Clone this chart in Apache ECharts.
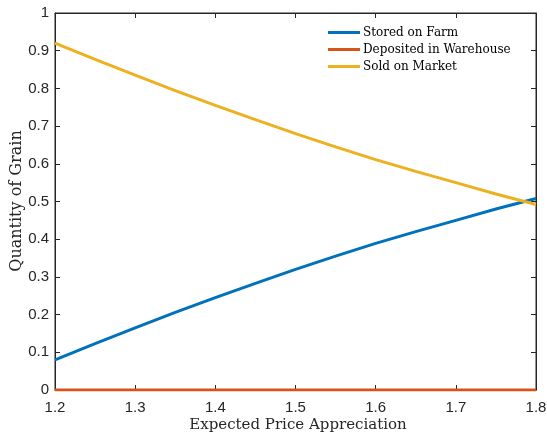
<!DOCTYPE html>
<html><head><meta charset="utf-8">
<script src="https://cdn.jsdelivr.net/npm/echarts@6/dist/echarts.min.js"></script>
<style>html,body{margin:0;padding:0;background:#fff;}#c{width:547px;height:433px;}</style>
</head><body><div id="c"></div>
<script>
const xValues = [1.2, 1.25, 1.3, 1.35, 1.4, 1.45, 1.5, 1.55, 1.6, 1.65, 1.7, 1.75, 1.8];
const storedOnFarm = [0.080, 0.123, 0.165, 0.206, 0.245, 0.283, 0.320, 0.355, 0.389, 0.420, 0.450, 0.480, 0.508];
const depositedInWarehouse = [0, 0, 0, 0, 0, 0, 0, 0, 0, 0, 0, 0, 0];
const soldOnMarket = [0.920, 0.877, 0.835, 0.794, 0.755, 0.717, 0.680, 0.645, 0.611, 0.580, 0.550, 0.520, 0.492];
const seriesNames = ['Stored on Farm', 'Deposited in Warehouse', 'Sold on Market'];
const xTitle = 'Expected Price Appreciation';
const yTitle = 'Quantity of Grain';

const chart = echarts.init(document.getElementById('c'), null, {renderer: 'canvas'});
const pair = arr => xValues.map((x, i) => [x, arr[i]]);
const axisCol = '#262626';
const tickFont = {color: axisCol, fontFamily: 'Liberation Sans', fontSize: 15};
const serif = 'DejaVu Serif';
const mkLine = (name, data, color) => ({
  name, type: 'line', data: pair(data), showSymbol: false, symbol: 'none',
  lineStyle: {color, width: 3}, itemStyle: {color}, xAxisIndex: 0, yAxisIndex: 0, z: 3
});
chart.setOption({
  animation: false,
  backgroundColor: '#fff',
  grid: {left: 55, right: 11, top: 13, bottom: 43, show: true, borderColor: axisCol, borderWidth: 1, outerBoundsMode: 'none', containLabel: false},
  legend: {
    top: 25.5, left: 328, orient: 'vertical', itemWidth: 32, itemHeight: 3, itemGap: 3,
    icon: 'rect', padding: 0,
    textStyle: {fontFamily: serif, fontSize: 12, lineHeight: 14, color: '#000', padding: [0,0,0,-2]},
    data: seriesNames
  },
  graphic: [
    {type: 'text', x: 298, y: 425, style: {text: xTitle, font: '15px "DejaVu Serif"', fill: axisCol, align: 'center', verticalAlign: 'middle'}},
    {type: 'text', x: 17, y: 201, rotation: Math.PI / 2, style: {text: yTitle, font: '16px "DejaVu Serif"', fill: axisCol, align: 'center', verticalAlign: 'middle'}}
  ],
  xAxis: [{
    type: 'value', min: 1.2, max: 1.8, interval: 0.1, position: 'bottom',
    axisLine: {show: true, onZero: false, lineStyle: {color: axisCol}},
    axisTick: {show: true, inside: true, length: 5, lineStyle: {color: axisCol}},
    axisLabel: Object.assign({margin: 10, formatter: v => v.toFixed(1)}, tickFont),
    splitLine: {show: false}
  }, {
    type: 'value', min: 1.2, max: 1.8, interval: 0.1, position: 'top',
    axisLine: {show: true, onZero: false, lineStyle: {color: axisCol}},
    axisTick: {show: true, inside: true, length: 5, lineStyle: {color: axisCol}},
    axisLabel: {show: false}, splitLine: {show: false}
  }],
  yAxis: [{
    type: 'value', min: 0, max: 1, interval: 0.1, position: 'left',
    axisLine: {show: true, onZero: false, lineStyle: {color: axisCol}},
    axisTick: {show: true, inside: true, length: 5, lineStyle: {color: axisCol}},
    axisLabel: Object.assign({margin: 6, formatter: v => (Math.round(v*10)/10).toString()}, tickFont),
    splitLine: {show: false}
  }, {
    type: 'value', min: 0, max: 1, interval: 0.1, position: 'right',
    axisLine: {show: true, onZero: false, lineStyle: {color: axisCol}},
    axisTick: {show: true, inside: true, length: 5, lineStyle: {color: axisCol}},
    axisLabel: {show: false}, splitLine: {show: false}
  }],
  series: [
    mkLine(seriesNames[0], storedOnFarm, '#0072BD'),
    mkLine(seriesNames[1], depositedInWarehouse, '#D95319'),
    mkLine(seriesNames[2], soldOnMarket, '#EDB120')
  ]
});
</script></body></html>
